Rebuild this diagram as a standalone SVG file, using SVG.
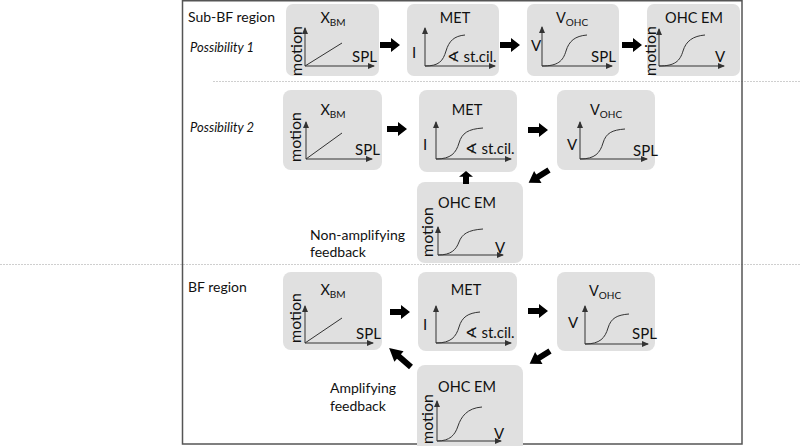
<svg xmlns="http://www.w3.org/2000/svg" xmlns:xlink="http://www.w3.org/1999/xlink" width="800" height="446" viewBox="0 0 800 446">
<style>
text{font-family:Lato,"Open Sans","DejaVu Sans",sans-serif;fill:#111}
.box{fill:#e0e0e0}
.t{font-size:14.5px;text-anchor:middle}
.sub{font-size:10px}
.lab{font-size:15px}
.mo{font-size:16px;text-anchor:middle}
.ax{fill:none;stroke:#333;stroke-width:1;marker-start:url(#ah);marker-end:url(#ah)}
.cv{fill:none;stroke:#333;stroke-width:1}
.side{font-size:14px}
.it{font-size:13px;font-style:italic}
.dash{stroke:#cfcfcf;stroke-width:1.2;stroke-dasharray:2 1}
.frame{stroke:#555;stroke-width:1.5;fill:none}
.arr{fill:#000}
</style>
<defs>
<marker id="ah" markerUnits="userSpaceOnUse" markerWidth="7" markerHeight="6" refX="6" refY="3" orient="auto-start-reverse"><path d="M0,0 L7,3 L0,6 z" fill="#333"/></marker>
<path id="blk" d="M0,-3 H11 V-7 L20,0 L11,7 V3 H0 Z"/>
</defs>

<g id="frame">
<line class="dash" x1="213" y1="81.5" x2="800" y2="81.5"/>
<line class="dash" x1="0" y1="264.5" x2="800" y2="264.5"/>
<path class="frame" d="M182.5,0.75 H742 V444 H182.5 Z"/>
</g>

<g id="labels">
<text class="side" x="188" y="22" font-size="15">Sub-BF region</text>
<text class="it" x="190" y="52">Possibility 1</text>
<text class="it" x="190" y="132">Possibility 2</text>
<text class="side" x="310" y="240">Non-amplifying</text>
<text class="side" x="310" y="257">feedback</text>
<text class="side" x="188" y="292">BF region</text>
<text class="side" x="330" y="393">Amplifying</text>
<text class="side" x="330" y="411">feedback</text>
</g>

<!-- Row 1 -->
<g id="xbm1" transform="translate(286,4)">
<rect class="box" width="93" height="72" rx="7"/>
<text class="t" x="47" y="19">X<tspan class="sub" dy="3">BM</tspan></text>
<text class="mo" transform="translate(16,47) rotate(-90)">motion</text>
<path class="ax" d="M19,24 V62 H88"/>
<line class="cv" x1="19" y1="62" x2="56" y2="39"/>
<text class="lab" x="66" y="58">SPL</text>
</g>
<g id="met1" transform="translate(407,4)">
<rect class="box" width="92" height="72" rx="7"/>
<text class="t" x="48" y="19">MET</text>
<text class="lab" x="5" y="54">I</text>
<path class="ax" d="M18,24 V62 H88"/>
<path class="cv" d="M18,62 C32,62 36,57 39,47 C42,37 47,32 58,31"/>
<text class="lab" x="40" y="58">∢ st.cil.</text>
</g>
<g id="vohc1" transform="translate(527,4)">
<rect class="box" width="92" height="72" rx="7"/>
<text class="t" x="45" y="19">V<tspan class="sub" dy="3">OHC</tspan></text>
<text class="lab" x="4" y="47">V</text>
<path class="ax" d="M15,23 V62 H85"/>
<path class="cv" d="M15,62 C31,62 36,57 39,47 C42,37 48,32 60,31"/>
<text class="lab" x="64" y="58">SPL</text>
</g>
<g id="ohcem1" transform="translate(647,4)">
<rect class="box" width="93" height="72" rx="7"/>
<text class="t" x="47" y="19">OHC EM</text>
<text class="mo" transform="translate(9,47) rotate(-90)">motion</text>
<path class="ax" d="M12,25 V62 H77"/>
<path class="cv" d="M12,62 C28,62 33,57 36,47 C39,37 46,32 58,31"/>
<text class="lab" x="68" y="58">V</text>
</g>

<!-- Row 2 -->
<g id="xbm2" transform="translate(283,90)">
<rect class="box" width="99" height="80" rx="8"/>
<text class="t" x="50" y="25">X<tspan class="sub" dy="3">BM</tspan></text>
<text class="mo" transform="translate(18,47) rotate(-90)">motion</text>
<path class="ax" d="M23,32 V69 H89"/>
<line class="cv" x1="23" y1="69" x2="59" y2="43"/>
<text class="lab" x="72" y="65">SPL</text>
</g>
<g id="met2" transform="translate(419,90)">
<rect class="box" width="98" height="82" rx="8"/>
<text class="t" x="48" y="25">MET</text>
<text class="lab" x="4" y="60">I</text>
<path class="ax" d="M17,32 V69 H92"/>
<path class="cv" d="M17,69 C32,69 37,63 40,53 C43,43 49,39 64,38"/>
<text class="lab" x="46" y="64">∢ st.cil.</text>
</g>
<g id="vohc2" transform="translate(557,90)">
<rect class="box" width="98" height="80" rx="8"/>
<text class="t" x="49" y="25">V<tspan class="sub" dy="3">OHC</tspan></text>
<text class="lab" x="10" y="60">V</text>
<path class="ax" d="M23,32 V69 H90"/>
<path class="cv" d="M23,69 C38,69 43,63 46,53 C49,43 55,40 68,39"/>
<text class="lab" x="76" y="66">SPL</text>
</g>
<g id="ohcem2" transform="translate(417,182)">
<rect class="box" width="106" height="81" rx="8"/>
<text class="t" x="50" y="26">OHC EM</text>
<text class="mo" transform="translate(16,50) rotate(-90)">motion</text>
<path class="ax" d="M21,45 V73 H86"/>
<path class="cv" d="M21,73 C34,73 39,68 42,60 C45,52 51,48 66,47"/>
<text class="lab" x="78" y="71">V</text>
</g>

<!-- Row 3 -->
<g id="xbm3" transform="translate(283,272)">
<rect class="box" width="99" height="78" rx="8"/>
<text class="t" x="50" y="23">X<tspan class="sub" dy="3">BM</tspan></text>
<text class="mo" transform="translate(18,46) rotate(-90)">motion</text>
<path class="ax" d="M22,34 V71 H90"/>
<line class="cv" x1="22" y1="71" x2="59" y2="46"/>
<text class="lab" x="73" y="67">SPL</text>
</g>
<g id="met3" transform="translate(418,272)">
<rect class="box" width="99" height="79" rx="8"/>
<text class="t" x="48" y="23">MET</text>
<text class="lab" x="5" y="58">I</text>
<path class="ax" d="M18,34 V71 H93"/>
<path class="cv" d="M18,71 C33,71 38,65 41,55 C44,45 50,41 62,40"/>
<text class="lab" x="47" y="66">∢ st.cil.</text>
</g>
<g id="vohc3" transform="translate(557,272)">
<rect class="box" width="98" height="79" rx="8"/>
<text class="t" x="48" y="24">V<tspan class="sub" dy="3">OHC</tspan></text>
<text class="lab" x="11" y="56">V</text>
<path class="ax" d="M28,34 V72 H91"/>
<path class="cv" d="M28,72 C43,72 48,66 51,56 C54,46 60,43 72,42"/>
<text class="lab" x="75" y="67">SPL</text>
</g>
<g id="ohcem3" transform="translate(417,365)">
<rect class="box" width="106" height="90" rx="8"/>
<text class="t" x="50" y="27">OHC EM</text>
<text class="mo" transform="translate(16,54) rotate(-90)">motion</text>
<path class="ax" d="M20,36 V76 H84"/>
<path class="cv" d="M20,76 C33,76 38,70 41,61 C44,52 50,43 65,42"/>
<text class="lab" x="77" y="74">V</text>
</g>

<g id="connectors" class="arr">
<use href="#blk" transform="translate(380,45)"/>
<use href="#blk" transform="translate(500,45)"/>
<use href="#blk" transform="translate(622,45)"/>
<use href="#blk" transform="translate(387,129)"/>
<use href="#blk" transform="translate(528,130)"/>
<use href="#blk" transform="translate(549,170) rotate(148) scale(1.2,1)"/>
<use href="#blk" transform="translate(466,184) rotate(-90) scale(0.65,1)"/>
<use href="#blk" transform="translate(390,312)"/>
<use href="#blk" transform="translate(528,311)"/>
<use href="#blk" transform="translate(550,351) rotate(148) scale(1.2,1)"/>
<use href="#blk" transform="translate(411,367) rotate(-139) scale(1.45,1)"/>
</g>
</svg>
